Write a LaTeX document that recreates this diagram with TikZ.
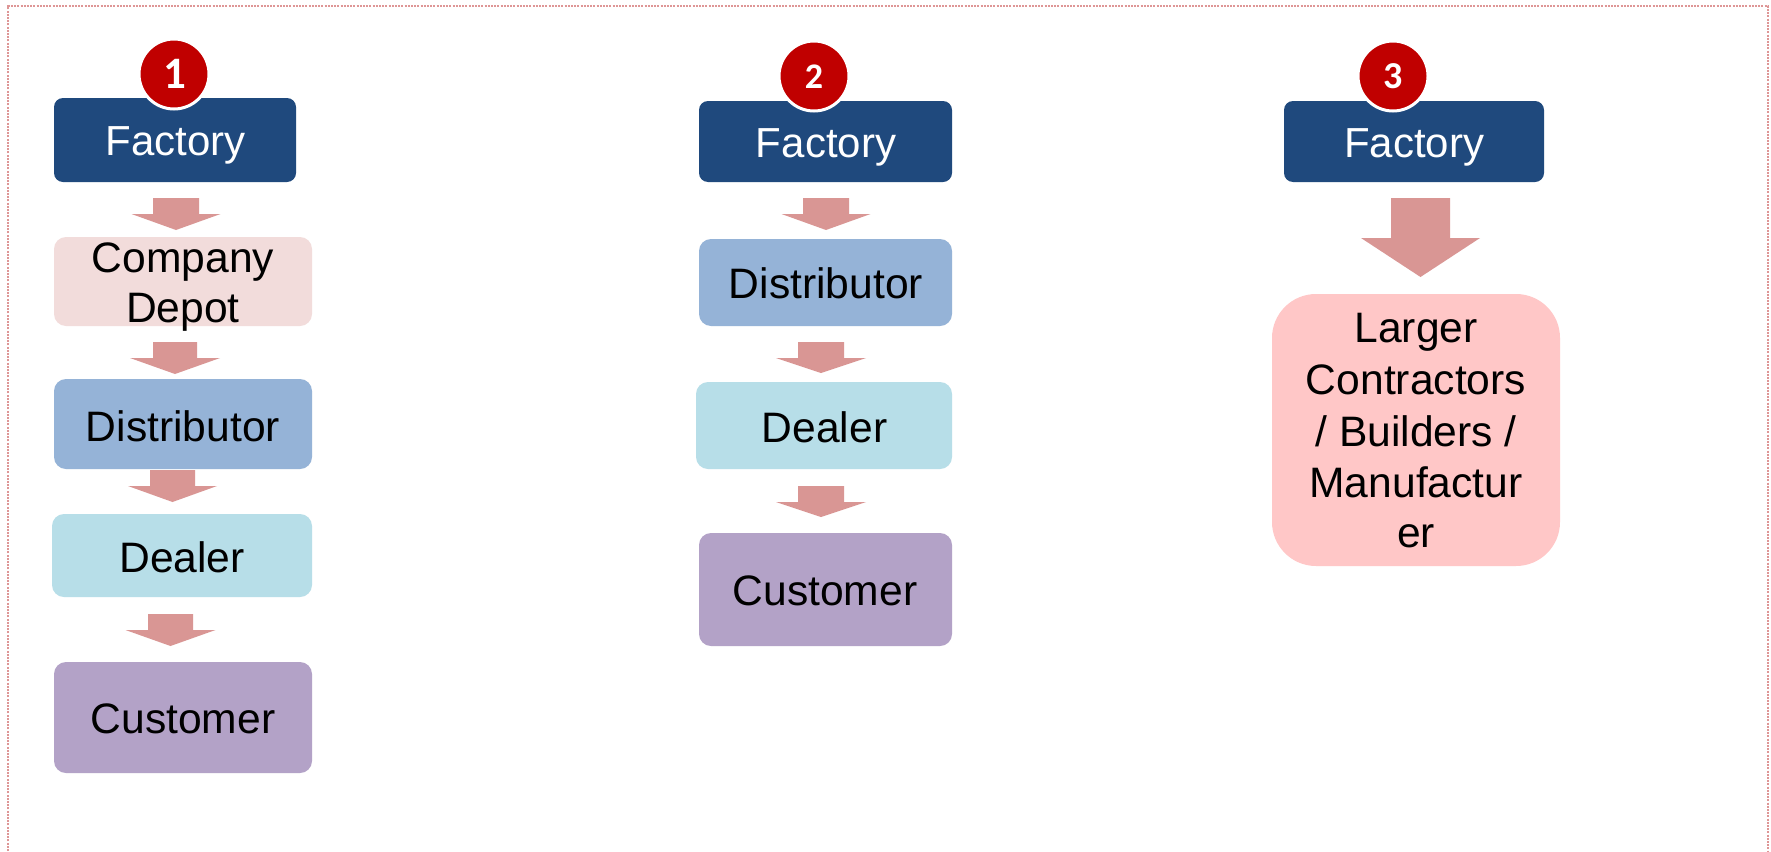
\documentclass[tikz,border=0pt]{standalone}
\usepackage{fontspec}
\setmainfont{Liberation Sans}
\newfontfamily\numfont{Carlito}
\definecolor{factorycol}{RGB}{31,73,125}
\definecolor{redcol}{RGB}{192,0,0}
\definecolor{arrowcol}{RGB}{217,150,148}
\definecolor{depotcol}{RGB}{242,220,219}
\definecolor{distcol}{RGB}{149,179,215}
\definecolor{dealcol}{RGB}{183,222,232}
\definecolor{custcol}{RGB}{179,162,199}
\definecolor{largecol}{RGB}{255,199,199}
\definecolor{bordercol}{RGB}{222,150,150}
\newcommand\blockarr[6]{\fill[arrowcol] (#1-#5,#2) -- (#1+#5,#2) -- (#1+#5,#3) -- (#1+#6,#3) -- (#1,#4) -- (#1-#6,#3) -- (#1-#5,#3) -- cycle;}
\begin{document}
\begin{tikzpicture}[x=0.5pt,y=-0.5pt,
  box/.style={rectangle, rounded corners=6pt, inner sep=0pt, draw=none},
  fbox/.style={box, fill=factorycol, rounded corners=4.5pt},
  txt/.style={anchor=base, inner sep=0pt, font=\fontsize{21.3}{25}\selectfont},
  ftxt/.style={anchor=base, inner sep=0pt, text=white, font=\fontsize{21}{24}\selectfont},
  numc/.style={circle, fill=redcol, draw=white, line width=1.5pt, minimum size=35pt, inner sep=0pt},
  numt/.style={anchor=base, inner sep=0pt, text=white},
  borderline/.style={draw=bordercol, line width=1pt, dash pattern=on 1pt off 0.6pt}]
\useasboundingbox (0,0) rectangle (1771,851);
\fill[white] (0,0) rectangle (1771,851);
\draw[borderline] (8,851) -- (8,6) -- (1768,6) -- (1768,851);

% ---- column 1 ----
\node[fbox, minimum width=121pt, minimum height=42pt] (f1) at (175,140) {};
\node[ftxt] (f1t) at (175.5,155) {Factory};
\node[box, fill=depotcol, minimum width=129pt, minimum height=44.5pt] (cd1) at (183,281.5) {};
\node[txt] (cd1a) at (183,272) {Company};
\node[txt] (cd1b) at (183,322) {Depot};
\node[box, fill=distcol, minimum width=129pt, minimum height=45pt] (d1) at (183,424) {};
\node[txt] (d1t) at (183,441) {Distributor};
\node[box, fill=dealcol, minimum width=130pt, minimum height=41.5pt] (de1) at (182,555.5) {};
\node[txt] (de1t) at (182,572) {Dealer};
\node[box, fill=custcol, minimum width=129pt, minimum height=55.5pt] (cu1) at (183,717.5) {};
\node[txt] (cu1t) at (183,733) {Customer};
\blockarr{176}{198}{214}{230}{23}{44.5}
\blockarr{175}{342}{358}{374}{22}{45}
\blockarr{172.5}{470}{486}{502}{22.5}{44.5}
\blockarr{170.5}{614}{630}{646}{22.5}{45}
\node[numc] (n1) at (174,74) {};
\node[numt, font=\numfont\bfseries\fontsize{22.5}{24}\selectfont] (n1t) at (174.5,88.3) {1};

% ---- column 2 ----
\node[fbox, minimum width=126.5pt, minimum height=40.5pt] (f2) at (825.5,141.5) {};
\node[ftxt] (f2t) at (826,157) {Factory};
\node[box, fill=distcol, minimum width=126.5pt, minimum height=43.5pt] (d2) at (825.5,282.5) {};
\node[txt] (d2t) at (826,298) {Distributor};
\node[box, fill=dealcol, minimum width=128pt, minimum height=43.5pt] (de2) at (824,425.5) {};
\node[txt] (de2t) at (824.5,442) {Dealer};
\node[box, fill=custcol, minimum width=126.5pt, minimum height=56.5pt] (cu2) at (825.5,589.5) {};
\node[txt] (cu2t) at (825,605) {Customer};
\blockarr{826}{198}{214}{230}{23}{44.5}
\blockarr{821}{342}{358}{373}{23}{45}
\blockarr{821}{486}{502}{517}{23}{45}
\node[numc] (n2) at (814,76) {};
\node[numt, font=\numfont\bfseries\fontsize{18}{20}\selectfont] (n2t) at (814,88.3) {2};

% ---- column 3 ----
\node[fbox, minimum width=130pt, minimum height=40.5pt] (f3) at (1414,141.5) {};
\node[ftxt] (f3t) at (1414,157) {Factory};
\node[box, fill=largecol, rounded corners=22pt, minimum width=144pt, minimum height=136pt] (l3) at (1416,430) {};
\node[txt] (l3a) at (1416,342.5) {Larger};
\node[txt] (l3b) at (1416,394) {Contractors};
\node[txt] (l3c) at (1416,446) {/ Builders /};
\node[txt] (l3d) at (1416,497.5) {Manufactur};
\node[txt] (l3e) at (1416,547) {er};
\blockarr{1420.5}{198}{238}{277}{29.5}{59.5}
\node[numc] (n3) at (1393,76) {};
\node[numt, font=\numfont\bfseries\fontsize{19}{21}\selectfont] (n3t) at (1393,88.8) {3};
\end{tikzpicture}
\end{document}
